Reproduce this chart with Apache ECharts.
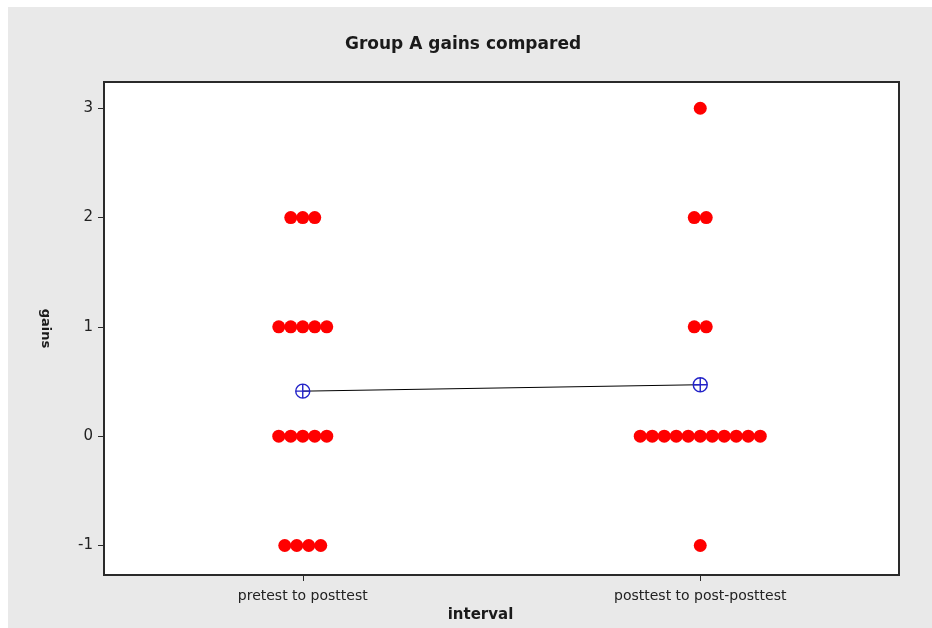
<!DOCTYPE html>
<html>
<head>
<meta charset="utf-8">
<script src="https://cdn.jsdelivr.net/npm/echarts@6/dist/echarts.min.js"></script>
<style>
  html, body { margin: 0; padding: 0; background: #ffffff; width: 932px; height: 628px; overflow: hidden; }
  #chart { position: absolute; left: 8px; top: 7px; width: 924px; height: 621px; }
</style>
</head>
<body>
<div id="chart"></div>
<script>
// ---- data ----
const categories = ['pretest to posttest', 'posttest to post-posttest'];
const pretestGains = [2, 2, 2, 1, 1, 1, 1, 1, 0, 0, 0, 0, 0, -1, -1, -1, -1];
const posttestGains = [3, 2, 2, 1, 1, 0, 0, 0, 0, 0, 0, 0, 0, 0, 0, 0, -1];
const yTickValues = [-1, 0, 1, 2, 3];

// ---- layout / style constants ----
const GRID = { left: 96, top: 75, width: 795, height: 493 };
const DOT_SIZE = 13;
const DOT_SPACING_PX = 12;
const X_MIN = -0.5, X_MAX = 1.5;
const pxPerUnit = GRID.width / (X_MAX - X_MIN);
const step = DOT_SPACING_PX / pxPerUnit;
const FONT = '"DejaVu Sans", Tahoma, sans-serif';

function dotPlot(values, catIndex) {
  const rows = new Map();
  values.forEach(v => { if (!rows.has(v)) rows.set(v, 0); rows.set(v, rows.get(v) + 1); });
  const pts = [];
  rows.forEach((n, v) => {
    for (let i = 0; i < n; i++) pts.push([catIndex + (i - (n - 1) / 2) * step, v]);
  });
  return pts;
}
const mean = a => a.reduce((s, v) => s + v, 0) / a.length;

const dots = dotPlot(pretestGains, 0).concat(dotPlot(posttestGains, 1));
const means = [[0, mean(pretestGains)], [1, mean(posttestGains)]];

const chart = echarts.init(document.getElementById('chart'), null, { renderer: 'canvas' });
chart.setOption({
  backgroundColor: '#e9e9e9',
  animation: false,
  title: {
    text: 'Group A gains compared',
    left: 337,
    top: 29,
    padding: 0,
    textStyle: { fontFamily: FONT, fontSize: 17, fontWeight: 'bold', color: '#1a1a1a' }
  },
  grid: {
    left: GRID.left, top: GRID.top, width: GRID.width, height: GRID.height,
    show: true, backgroundColor: '#ffffff', borderColor: '#2a2a2a', borderWidth: 2,
    containLabel: false
  },
  xAxis: [
    {
      type: 'category',
      data: categories,
      boundaryGap: true,
      name: 'interval',
      nameLocation: 'middle',
      nameGap: 31,
      nameTextStyle: { fontFamily: FONT, fontSize: 15, fontWeight: 'bold', color: '#1a1a1a', padding: [0, 42, 0, 0] },
      axisLine: { show: false, onZero: false },
      axisTick: { show: true, alignWithLabel: true, length: 6, lineStyle: { color: '#2a2a2a', width: 1 } },
      axisLabel: { fontFamily: FONT, fontSize: 14, color: '#222', margin: 14 },
      splitLine: { show: false }
    },
    { type: 'value', min: X_MIN, max: X_MAX, show: false, axisLine: { onZero: false } }
  ],
  yAxis: {
    type: 'value',
    min: -1.27,
    max: 3.24,
    name: 'gains',
    nameLocation: 'middle',
    nameRotate: -90,
    nameGap: 52,
    nameTextStyle: { fontFamily: FONT, fontSize: 13, fontWeight: 'bold', color: '#1a1a1a' },
    axisLine: { show: false, onZero: false },
    axisTick: { show: true, length: 6, customValues: yTickValues, lineStyle: { color: '#2a2a2a', width: 1 } },
    axisLabel: { fontFamily: FONT, fontSize: 15, color: '#222', margin: 11, customValues: yTickValues },
    splitLine: { show: false }
  },
  series: [
    {
      type: 'scatter',
      xAxisIndex: 1,
      data: dots,
      symbol: 'circle',
      symbolSize: DOT_SIZE,
      itemStyle: { color: '#ff0000', opacity: 1 },
      silent: true
    },
    {
      type: 'line',
      xAxisIndex: 1,
      data: means,
      symbol: 'path://M2,12 A10,10 0 1,1 22,12 A10,10 0 1,1 2,12 Z M2,12 L22,12 M12,2 L12,22',
      symbolSize: 14,
      showSymbol: true,
      itemStyle: { color: 'rgba(0,0,0,0)', borderColor: '#2323c8', borderWidth: 1.4 },
      lineStyle: { color: '#000000', width: 1 },
      z: 3,
      silent: true
    }
  ]
});
</script>
</body>
</html>
